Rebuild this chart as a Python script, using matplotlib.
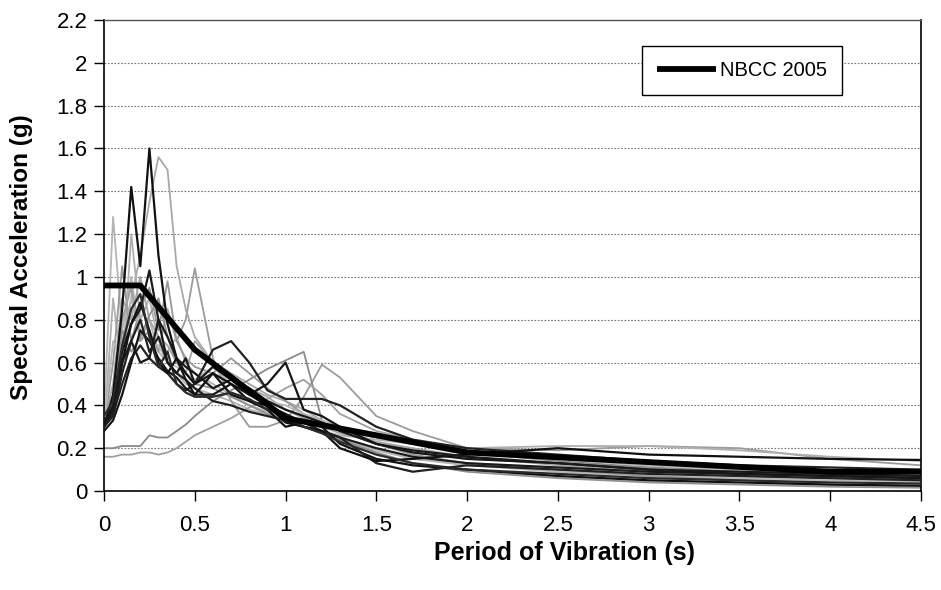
import matplotlib
matplotlib.use("Agg")
import matplotlib.pyplot as plt

plt.rcParams['font.family'] = ['Liberation Sans', 'DejaVu Sans']

# Common period grid for the ground-motion records (s)
periods = [0, 0.05, 0.1, 0.15, 0.2, 0.25, 0.3, 0.35, 0.4, 0.45, 0.5, 0.6, 0.7, 0.8,
           0.9, 1.0, 1.1, 1.2, 1.3, 1.5, 1.7, 2.0, 2.5, 3.0, 3.5, 4.0, 4.5]

# Dark records
rec_d1 = [0.30, 0.45, 0.85, 1.42, 1.05, 1.60, 1.10, 0.78, 0.62, 0.55, 0.50, 0.55, 0.45, 0.42, 0.38, 0.30, 0.32, 0.30, 0.22, 0.15, 0.12, 0.10, 0.07, 0.05, 0.04, 0.03, 0.025]
rec_d2 = [0.32, 0.40, 0.65, 0.78, 0.85, 1.03, 0.80, 0.72, 0.62, 0.58, 0.55, 0.48, 0.52, 0.45, 0.40, 0.36, 0.32, 0.28, 0.25, 0.20, 0.16, 0.13, 0.11, 0.09, 0.08, 0.07, 0.06]
rec_d3 = [0.30, 0.36, 0.50, 0.62, 0.68, 0.62, 0.58, 0.55, 0.50, 0.47, 0.50, 0.66, 0.70, 0.60, 0.47, 0.43, 0.43, 0.43, 0.40, 0.30, 0.24, 0.20, 0.17, 0.14, 0.12, 0.11, 0.10]
rec_d4 = [0.28, 0.33, 0.45, 0.60, 0.75, 0.70, 0.62, 0.56, 0.53, 0.48, 0.45, 0.45, 0.50, 0.45, 0.50, 0.60, 0.38, 0.35, 0.30, 0.22, 0.18, 0.15, 0.13, 0.10, 0.08, 0.07, 0.06]
rec_d5 = [0.30, 0.35, 0.55, 0.70, 0.80, 0.65, 0.72, 0.60, 0.55, 0.52, 0.48, 0.42, 0.40, 0.37, 0.35, 0.33, 0.30, 0.28, 0.25, 0.13, 0.09, 0.12, 0.10, 0.08, 0.07, 0.06, 0.05]
rec_d6 = [0.32, 0.38, 0.60, 0.78, 0.88, 0.75, 0.60, 0.55, 0.62, 0.52, 0.45, 0.55, 0.50, 0.42, 0.40, 0.32, 0.30, 0.28, 0.20, 0.14, 0.15, 0.17, 0.20, 0.17, 0.16, 0.15, 0.145]
rec_d7 = [0.35, 0.42, 0.68, 0.85, 0.92, 0.72, 0.58, 0.65, 0.50, 0.46, 0.44, 0.44, 0.46, 0.43, 0.38, 0.35, 0.30, 0.27, 0.23, 0.17, 0.13, 0.10, 0.08, 0.06, 0.05, 0.04, 0.035]
rec_d8 = [0.30, 0.38, 0.60, 0.70, 0.60, 0.62, 0.80, 0.60, 0.55, 0.62, 0.50, 0.58, 0.52, 0.48, 0.42, 0.38, 0.35, 0.32, 0.28, 0.22, 0.19, 0.16, 0.13, 0.10, 0.09, 0.08, 0.07]

# Grey records
rec_g1 = [0.30, 0.40, 0.70, 0.90, 1.10, 1.35, 1.56, 1.50, 1.05, 0.85, 0.72, 0.60, 0.55, 0.50, 0.45, 0.42, 0.38, 0.33, 0.28, 0.22, 0.18, 0.15, 0.13, 0.11, 0.09, 0.08, 0.07]
rec_g2 = [0.35, 1.28, 0.75, 1.00, 0.70, 0.80, 0.65, 0.60, 0.55, 0.50, 0.48, 0.45, 0.42, 0.38, 0.36, 0.33, 0.30, 0.27, 0.24, 0.19, 0.15, 0.12, 0.09, 0.07, 0.06, 0.05, 0.045]
rec_g3 = [0.30, 0.45, 0.80, 0.95, 0.70, 0.75, 0.65, 0.85, 0.70, 0.80, 1.04, 0.62, 0.42, 0.30, 0.30, 0.33, 0.44, 0.59, 0.53, 0.35, 0.28, 0.20, 0.19, 0.21, 0.20, 0.15, 0.12]
rec_g4 = [0.20, 0.20, 0.21, 0.21, 0.21, 0.26, 0.25, 0.25, 0.28, 0.31, 0.35, 0.42, 0.47, 0.52, 0.57, 0.61, 0.65, 0.33, 0.28, 0.25, 0.22, 0.18, 0.14, 0.11, 0.09, 0.08, 0.07]
rec_g5 = [0.16, 0.16, 0.17, 0.17, 0.18, 0.18, 0.17, 0.18, 0.20, 0.23, 0.26, 0.30, 0.34, 0.39, 0.43, 0.48, 0.52, 0.45, 0.36, 0.28, 0.24, 0.19, 0.15, 0.12, 0.10, 0.08, 0.06]
rec_g6 = [0.28, 0.90, 0.55, 1.20, 0.80, 0.90, 0.70, 0.65, 0.72, 0.60, 0.55, 0.50, 0.45, 0.40, 0.37, 0.34, 0.30, 0.28, 0.26, 0.24, 0.22, 0.20, 0.21, 0.21, 0.19, 0.16, 0.14]
rec_g7 = [0.30, 0.60, 1.05, 0.70, 0.85, 0.95, 0.75, 0.98, 0.70, 0.62, 0.58, 0.55, 0.62, 0.55, 0.48, 0.42, 0.36, 0.32, 0.28, 0.22, 0.17, 0.13, 0.10, 0.07, 0.05, 0.03, 0.02]
rec_g8 = [0.32, 0.50, 0.90, 0.80, 1.00, 0.80, 0.72, 0.68, 0.60, 0.55, 0.70, 0.60, 0.52, 0.48, 0.44, 0.38, 0.34, 0.30, 0.27, 0.23, 0.20, 0.16, 0.12, 0.09, 0.07, 0.06, 0.05]
rec_g9 = [0.30, 0.70, 0.60, 0.90, 0.75, 0.70, 0.68, 0.60, 0.58, 0.55, 0.52, 0.58, 0.50, 0.46, 0.42, 0.40, 0.36, 0.33, 0.30, 0.27, 0.22, 0.18, 0.15, 0.12, 0.10, 0.09, 0.08]
rec_g10 = [0.29, 0.45, 0.75, 0.65, 0.72, 0.82, 0.90, 0.72, 0.60, 0.55, 0.50, 0.48, 0.44, 0.40, 0.36, 0.33, 0.30, 0.27, 0.24, 0.18, 0.13, 0.09, 0.06, 0.04, 0.03, 0.02, 0.015]

# NBCC 2005 design spectrum
nbcc_periods = [0, 0.2, 0.5, 1.0, 2.0, 4.0, 4.5]
nbcc_values = [0.96, 0.96, 0.66, 0.34, 0.18, 0.09, 0.09]

x_ticks = [0, 0.5, 1, 1.5, 2, 2.5, 3, 3.5, 4, 4.5]
x_tick_labels = ['0', '0.5', '1', '1.5', '2', '2.5', '3', '3.5', '4', '4.5']
y_ticks = [0, 0.2, 0.4, 0.6, 0.8, 1, 1.2, 1.4, 1.6, 1.8, 2, 2.2]
y_tick_labels = ['0', '0.2', '0.4', '0.6', '0.8', '1', '1.2', '1.4', '1.6', '1.8', '2', '2.2']

grey_records = [rec_g1, rec_g2, rec_g3, rec_g4, rec_g5, rec_g6, rec_g7, rec_g8, rec_g9, rec_g10]
grey_colors = ['#a8a8a8', '#b4b4b4', '#9c9c9c', '#8a8a8a', '#a0a0a0',
               '#b0b0b0', '#989898', '#a4a4a4', '#b8b8b8', '#909090']
dark_records = [rec_d1, rec_d2, rec_d3, rec_d4, rec_d5, rec_d6, rec_d7, rec_d8]
dark_colors = ['#111111', '#1a1a1a', '#222222', '#151515', '#202020', '#101010', '#2a2a2a', '#181818']

fig = plt.figure(figsize=(9.41, 5.90), dpi=100)
ax = fig.add_axes([104/941, 1 - 491/590, (921 - 104)/941, (491 - 20)/590])

for rec, c in zip(grey_records, grey_colors):
    ax.plot(periods, rec, color=c, lw=1.3, zorder=2)
for rec, c in zip(dark_records, dark_colors):
    ax.plot(periods, rec, color=c, lw=1.6, zorder=3)

ax.plot(nbcc_periods, nbcc_values, color='black', lw=4.2, zorder=5,
        label='NBCC 2005', solid_capstyle='butt')

ax.set_xlim(0, 4.5)
ax.set_ylim(0, 2.2)
ax.set_xticks(x_ticks)
ax.set_xticklabels(x_tick_labels)
ax.set_yticks(y_ticks)
ax.set_yticklabels(y_tick_labels)
ax.tick_params(axis='both', direction='out', length=7, width=1, labelsize=16, color='black')
ax.tick_params(axis='x', pad=10)
ax.tick_params(axis='y', pad=5)

ax.yaxis.grid(True, linestyle=(0, (1.5, 1.5)), color='#777777', lw=0.8)
ax.set_axisbelow(True)

for side in ['left', 'bottom', 'right']:
    ax.spines[side].set_color('black')
    ax.spines[side].set_linewidth(1.2)
ax.spines['top'].set_color('#555555')
ax.spines['top'].set_linewidth(1.0)

ax.set_xlabel('Period of Vibration (s)', fontsize=18, fontweight='bold')
ax.xaxis.set_label_coords((565 - 104) / 817, (491 - 553) / 471, transform=ax.transAxes)
ax.xaxis.label.set_va('center')
ax.set_ylabel('Spectral Acceleration (g)', fontsize=17.5, fontweight='bold')
ax.yaxis.set_label_coords((22 - 104) / 817, (491 - 257) / 471, transform=ax.transAxes)
ax.yaxis.label.set_va('center')

leg = ax.legend(loc='upper right', bbox_to_anchor=(842/941, 1 - 46/590),
                bbox_transform=fig.transFigure, borderaxespad=0, fancybox=False,
                fontsize=14.5, handlelength=2.9, borderpad=0.75, handletextpad=0.2,
                framealpha=1)
leg.get_frame().set_edgecolor('black')
leg.get_frame().set_linewidth(1.0)

fig.savefig('out.png', dpi=100)
